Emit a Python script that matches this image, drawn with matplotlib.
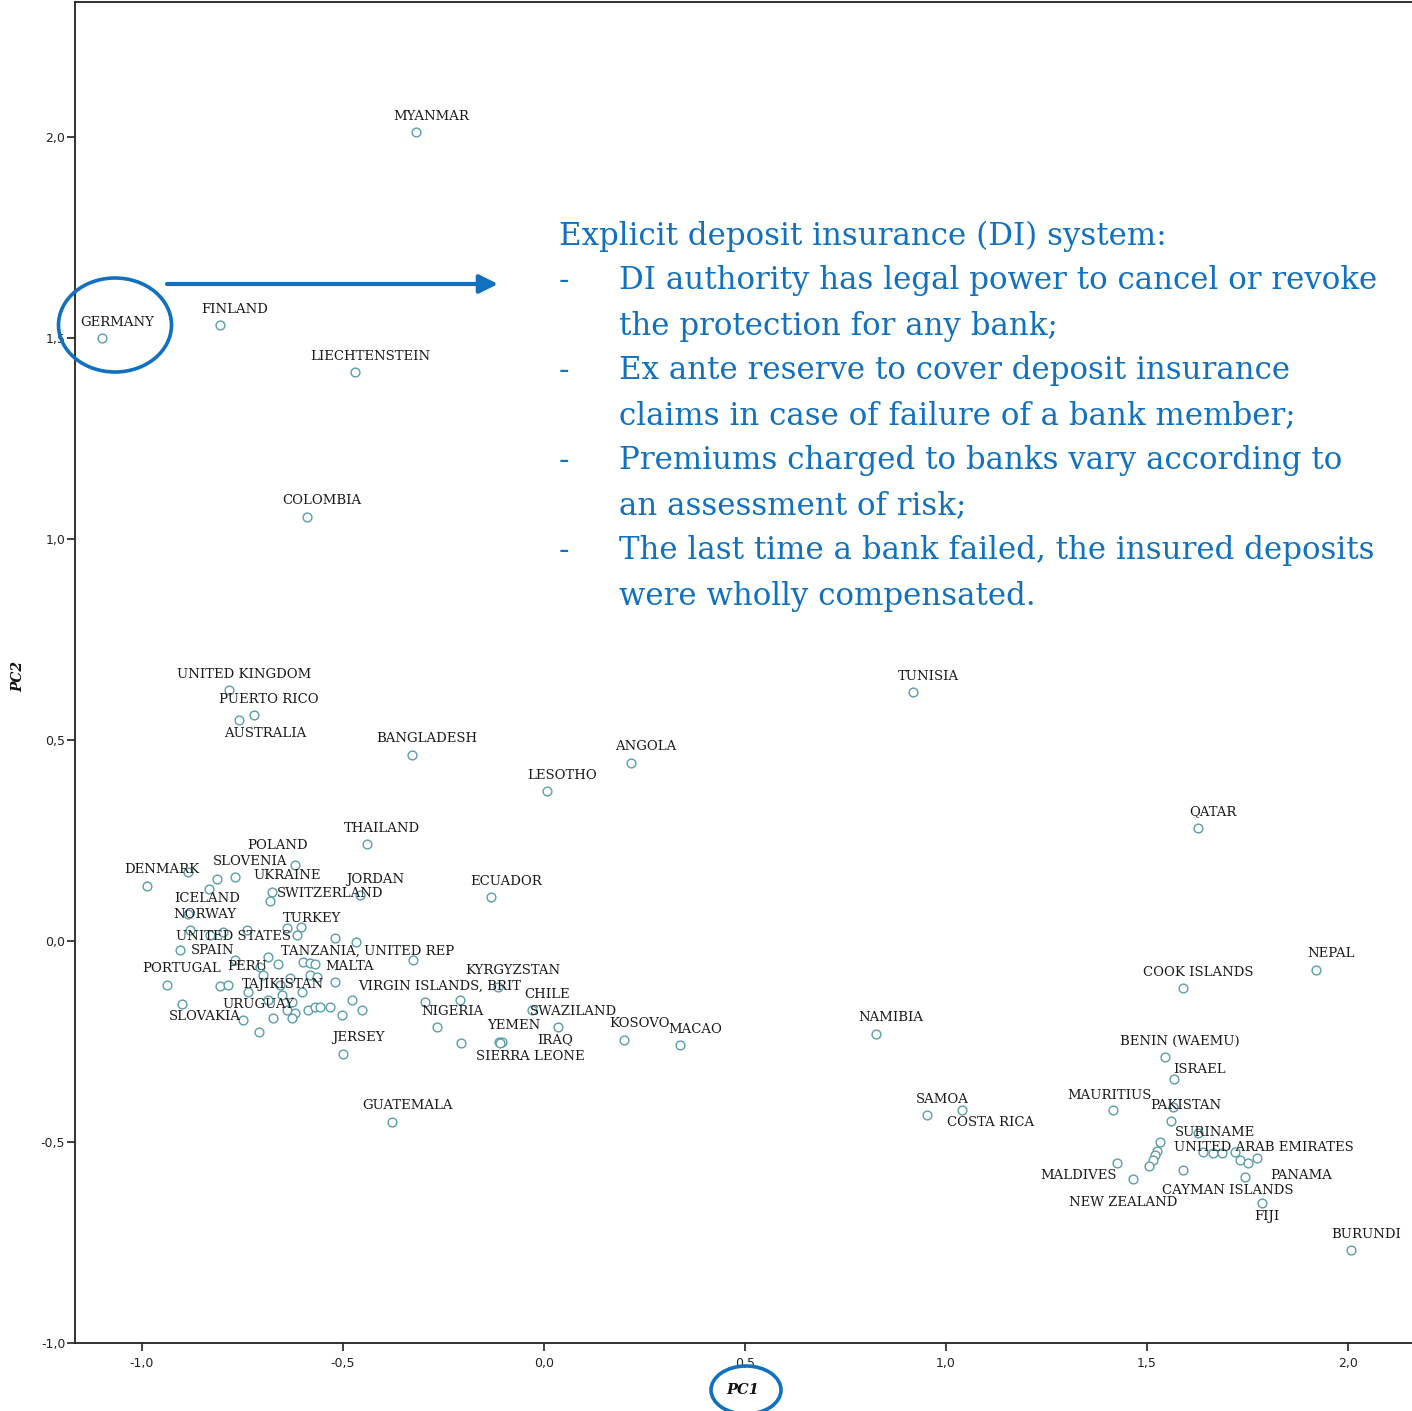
import matplotlib
matplotlib.use("Agg")
import matplotlib.pyplot as plt
from matplotlib.patches import Ellipse

# ---------------- data ----------------
names = [
    "GERMANY", "FINLAND", "MYANMAR", "LIECHTENSTEIN", "COLOMBIA", "UNITED KINGDOM",
    "PUERTO RICO", "AUSTRALIA", "BANGLADESH", "ANGOLA", "LESOTHO", "TUNISIA", "QATAR",
    "THAILAND", "ECUADOR", "POLAND", "SLOVENIA", "DENMARK", "UKRAINE", "SWITZERLAND",
    "JORDAN", "ICELAND", "NORWAY", "UNITED STATES", "TURKEY", "SPAIN",
    "TANZANIA, UNITED REP", "PORTUGAL", "PERU", "MALTA", "TAJIKISTAN", "URUGUAY",
    "SLOVAKIA", "JERSEY", "GUATEMALA", "VIRGIN ISLANDS, BRIT", "KYRGYZSTAN", "CHILE",
    "NIGERIA", "SWAZILAND", "YEMEN", "IRAQ", "SIERRA LEONE", "KOSOVO", "MACAO",
    "NAMIBIA", "SAMOA", "COSTA RICA", "NEPAL", "COOK ISLANDS", "BENIN (WAEMU)",
    "ISRAEL", "MAURITIUS", "PAKISTAN", "SURINAME", "UNITED ARAB EMIRATES", "PANAMA",
    "CAYMAN ISLANDS", "MALDIVES", "NEW ZEALAND", "FIJI", "BURUNDI",
]
pc1 = [
    -1.100, -0.806, -0.318, -0.470, -0.590, -0.784,
    -0.721, -0.759, -0.328, 0.216, 0.007, 0.918, 1.627,
    -0.440, -0.132, -0.619, -0.769, -0.988, -0.677, -0.682,
    -0.458, -0.886, -0.881, -0.799, -0.614, -0.905,
    -0.468, -0.938, -0.786, -0.520, -0.687, -0.749,
    -0.900, -0.500, -0.378, -0.296, -0.114, -0.030,
    -0.266, 0.035, -0.112, -0.104, -0.109, 0.199, 0.338,
    0.826, 0.953, 1.040, 1.920, 1.590, 1.545,
    1.567, 1.415, 1.560, 1.639, 1.751, 1.744,
    1.590, 1.425, 1.465, 1.786, 2.007,
]
pc2 = [
    1.500, 1.532, 2.012, 1.415, 1.055, 0.624,
    0.562, 0.550, 0.463, 0.443, 0.373, 0.619, 0.281,
    0.241, 0.109, 0.189, 0.159, 0.137, 0.122, 0.100,
    0.114, 0.067, 0.027, 0.022, 0.015, -0.022,
    -0.002, -0.109, -0.109, -0.102, -0.147, -0.197,
    -0.157, -0.281, -0.450, -0.152, -0.114, -0.172,
    -0.214, -0.214, -0.251, -0.251, -0.254, -0.246, -0.259,
    -0.231, -0.433, -0.420, -0.072, -0.117, -0.289,
    -0.343, -0.420, -0.448, -0.525, -0.552, -0.587,
    -0.570, -0.552, -0.592, -0.652, -0.769,
]
# unlabelled cases
pc1_unlabelled = [
    -0.886, -0.813, -0.833, -0.831, -0.739, -0.639, -0.604, -0.520, -0.769, -0.687,
    -0.662, -0.706, -0.600, -0.582, -0.570, -0.806, -0.699, -0.632, -0.582, -0.565,
    -0.736, -0.657, -0.602, -0.652, -0.627, -0.639, -0.619, -0.674, -0.627, -0.587,
    -0.570, -0.557, -0.532, -0.502, -0.478, -0.453, -0.709, -0.326, -0.209, -0.206,
    1.565, 1.532, 1.525, 1.520, 1.515, 1.505, 1.627, 1.664, 1.687, 1.719, 1.731, 1.774,
]
pc2_unlabelled = [
    0.172, 0.154, 0.129, 0.015, 0.027, 0.032, 0.035, 0.007, -0.047, -0.040,
    -0.057, -0.065, -0.052, -0.055, -0.057, -0.112, -0.085, -0.092, -0.085, -0.090,
    -0.127, -0.109, -0.127, -0.134, -0.152, -0.172, -0.179, -0.192, -0.192, -0.172,
    -0.164, -0.164, -0.164, -0.184, -0.147, -0.172, -0.226, -0.047, -0.147, -0.254,
    -0.413, -0.500, -0.522, -0.532, -0.545, -0.560, -0.478, -0.527, -0.527, -0.525, -0.545, -0.540,
]
xticks = [-1.0, -0.5, 0.0, 0.5, 1.0, 1.5, 2.0]
xtick_labels = ["-1,0", "-0,5", "0,0", "0,5", "1,0", "1,5", "2,0"]
yticks = [-1.0, -0.5, 0.0, 0.5, 1.0, 1.5, 2.0]
ytick_labels = ["-1,0", "-0,5", "0,0", "0,5", "1,0", "1,5", "2,0"]

note_title = "Explicit deposit insurance (DI) system:"
note_lines = [
    ("-", "DI authority has legal power to cancel or revoke"),
    ("", "the protection for any bank;"),
    ("-", "Ex ante reserve to cover deposit insurance"),
    ("", "claims in case of failure of a bank member;"),
    ("-", "Premiums charged to banks vary according to"),
    ("", "an assessment of risk;"),
    ("-", "The last time a bank failed, the insured deposits"),
    ("", "were wholly compensated."),
]

# label offsets in pixels (dx right, dy up) relative to each marker
default_off = (15, 16)
label_off = {
    "AUSTRALIA": (26, -14), "POLAND": (-18, 20), "SWITZERLAND": (60, 7),
    "ICELAND": (19, 16), "UNITED STATES": (11, -4), "SPAIN": (32, -1),
    "TANZANIA, UNITED REP": (12, -9), "PERU": (19, 18), "SLOVAKIA": (23, -12),
    "IRAQ": (53, 2), "SIERRA LEONE": (30, -13), "COSTA RICA": (28, -13),
    "ISRAEL": (26, 9), "MAURITIUS": (-3, 14), "SURINAME": (12, 20),
    "PANAMA": (56, 1), "CAYMAN ISLANDS": (44, -20), "MALDIVES": (-38, -13),
    "NEW ZEALAND": (-10, -24), "FIJI": (5, -13), "UNITED ARAB EMIRATES": (16, 15),
}

# ---------------- figure ----------------
W, H = 1412, 1411
fig = plt.figure(figsize=(W / 100, H / 100), dpi=100)
fig.patch.set_facecolor("white")

ax = fig.add_axes([75 / W, 1 - 1343 / H, (W - 75) / W, (1343 - 2) / H])
ax.set_xlim(-1.1667, 2.159)
ax.set_ylim(-1.0, 2.336)

edge = "#5a9fa9"
ax.scatter(pc1_unlabelled, pc2_unlabelled, s=40, facecolors="white",
           edgecolors=edge, linewidths=1.0, zorder=3)
ax.scatter(pc1, pc2, s=40, facecolors="white", edgecolors=edge,
           linewidths=1.0, zorder=3)

lab_font = dict(family="DejaVu Serif", size=9.5, color="#1a1a1a")
for n, x, y in zip(names, pc1, pc2):
    dx, dy = label_off.get(n, default_off)
    ax.annotate(n, (x, y), xytext=(dx, dy), textcoords="offset pixels",
                ha="center", va="center", zorder=4, **lab_font)

for side in ("right",):
    ax.spines[side].set_visible(False)
for side in ("left", "bottom", "top"):
    ax.spines[side].set_linewidth(1.3)
    ax.spines[side].set_color("#222222")

ax.set_xticks(xticks)
ax.set_xticklabels(xtick_labels)
ax.set_yticks(yticks)
ax.set_yticklabels(ytick_labels)
ax.tick_params(direction="out", length=6, width=1.2, color="#222222",
               labelsize=9, labelcolor="#222222")
ax.tick_params(axis="x", pad=4)
ax.tick_params(axis="y", pad=1)

# ---------------- overlay (pixel coords) ----------------
ov = fig.add_axes([0, 0, 1, 1], zorder=10)
ov.set_xlim(0, W)
ov.set_ylim(H, 0)
ov.axis("off")
ov.patch.set_alpha(0)

ov.text(18, 676, "PC2", rotation=90, ha="center", va="center",
        family="DejaVu Serif", style="italic", weight="bold", size=10, color="#111111")
ov.text(743, 1390, "PC1", ha="center", va="center",
        family="DejaVu Serif", style="italic", weight="bold", size=10.5, color="#111111")

blue = "#1170c0"
ov.add_patch(Ellipse((115, 325), 113, 94, fill=False, edgecolor=blue, lw=2.6))
ov.add_patch(Ellipse((746, 1390), 70, 48, fill=False, edgecolor=blue, lw=2.6))
ov.annotate("", xy=(498, 284), xytext=(167, 284),
            arrowprops=dict(arrowstyle="-|>", color=blue, lw=3, mutation_scale=28,
                            shrinkA=0, shrinkB=0))

note_font = dict(family="DejaVu Serif", size=22.2, color=blue, va="center", ha="left")
ov.text(559, 236, note_title, **note_font)
y0 = 281
for i, (dash, line) in enumerate(note_lines):
    yy = y0 + i * 45.0
    if dash:
        ov.text(559, yy, dash, **note_font)
    ov.text(619, yy, line, **note_font)

fig.savefig("out.png", dpi=100, facecolor="white")
